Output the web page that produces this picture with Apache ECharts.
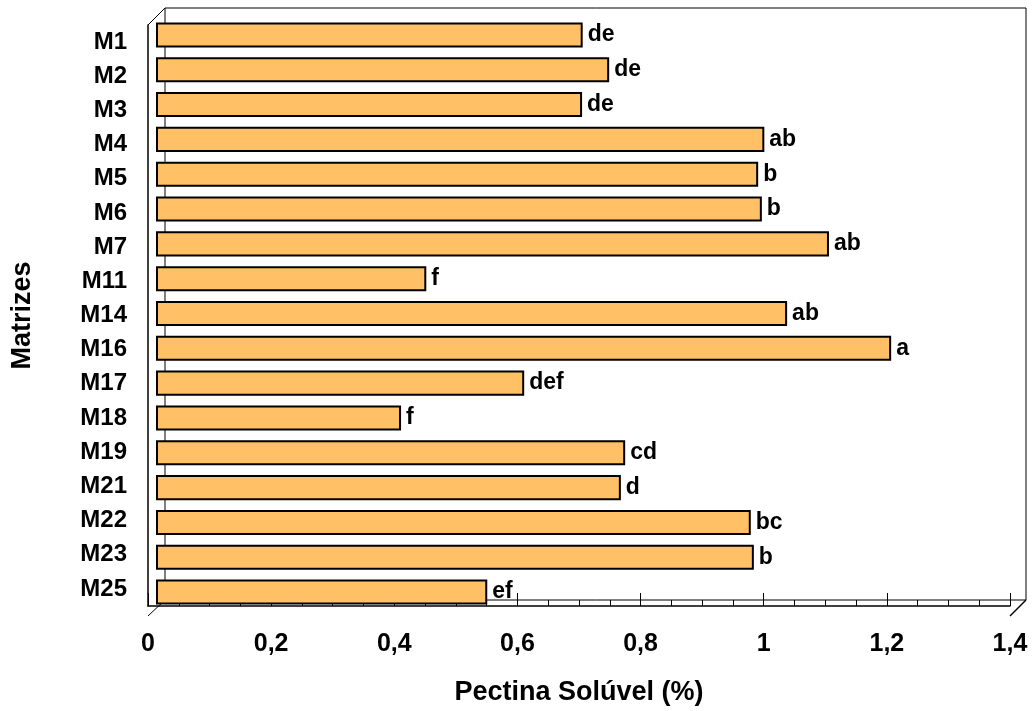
<!DOCTYPE html>
<html>
<head>
<meta charset="utf-8">
<script src="https://cdn.jsdelivr.net/npm/echarts@6/dist/echarts.min.js"></script>
<style>
html,body{margin:0;padding:0;background:#fff;}
#main{width:1033px;height:711px;}
</style>
</head>
<body>
<div id="main"></div>
<script>
// dados
var categorias = ['M1','M2','M3','M4','M5','M6','M7','M11','M14','M16','M17','M18','M19','M21','M22','M23','M25'];
var pectina = [0.693,0.736,0.692,0.988,0.978,0.984,1.093,0.439,1.025,1.194,0.598,0.398,0.762,0.755,0.966,0.971,0.538];
var letras = ['de','de','de','ab','b','b','ab','f','ab','a','def','f','cd','d','bc','b','ef'];

var fonte = "'Liberation Sans', Arial, sans-serif";

// planos do "3D": frente, meio (barras), fundo
var frente = {left:148, top:25, right:1010, bottom:616};
var fundo = {left:165, top:8, right:1026, bottom:600};
var meio = {left:156, top:17.5, right:1018, bottom:609.5};

var fmt = function(v){ return (+v.toFixed(1)).toString().replace('.', ','); };

var option = {
  animation:false,
  grid:[
    {left:fundo.left, top:fundo.top, width:fundo.right-fundo.left, height:fundo.bottom-fundo.top,
     show:true, borderColor:'#000', borderWidth:1, backgroundColor:'transparent'},
    {left:meio.left, top:meio.top, width:meio.right-meio.left, height:meio.bottom-meio.top},
    {left:frente.left, top:frente.top, width:frente.right-frente.left, height:frente.bottom-frente.top}
  ],
  xAxis:[
    {gridIndex:0, type:'value', min:0, max:1.4, show:false},
    {gridIndex:1, type:'value', min:0, max:1.4, show:false},
    {gridIndex:2, type:'value', min:0, max:1.4, interval:0.2,
     name:'Pectina Solúvel (%)', nameLocation:'middle', nameGap:73,
     nameTextStyle:{fontFamily:fonte, fontWeight:'bold', fontSize:27, color:'#000'},
     axisLine:{show:true, lineStyle:{color:'#000', width:1.5}},
     axisTick:{show:true, inside:true, length:13, lineStyle:{color:'#000', width:1}},
     minorTick:{show:true, splitNumber:4, length:6, lineStyle:{color:'#000', width:1}},
     splitLine:{show:false},
     axisLabel:{fontFamily:fonte, fontWeight:'bold', fontSize:25, color:'#000', margin:26, formatter:fmt}
    }
  ],
  yAxis:[
    {gridIndex:0, type:'category', data:categorias, inverse:true, show:false},
    {gridIndex:1, type:'category', data:categorias, inverse:true, show:false},
    {gridIndex:2, type:'category', data:categorias, inverse:true,
     name:'Matrizes', nameLocation:'middle', nameGap:112, nameRotate:90,
     nameTextStyle:{fontFamily:fonte, fontWeight:'bold', fontSize:27, color:'#000'},
     axisLine:{show:true, lineStyle:{color:'#000', width:1.5}},
     axisTick:{show:false},
     axisLabel:{fontFamily:fonte, fontWeight:'bold', fontSize:24, color:'#000', margin:21}
    }
  ],
  series:[
    {
      type:'bar', xAxisIndex:1, yAxisIndex:1,
      data:pectina, barCategoryGap:'28%',
      itemStyle:{color:'#FFC066', borderColor:'#000', borderWidth:2},
      label:{show:true, position:'right', distance:5,
        fontFamily:fonte, fontWeight:'bold', fontSize:23, color:'#000',
        formatter:function(p){ return letras[p.dataIndex]; }}
    }
  ],
  graphic:[
    // arestas diagonais do grafico 3D
    {type:'line', shape:{x1:frente.left, y1:frente.top, x2:fundo.left, y2:fundo.top}, style:{stroke:'#000', lineWidth:1}},
    {type:'line', shape:{x1:frente.left, y1:frente.bottom, x2:fundo.left, y2:fundo.bottom}, style:{stroke:'#000', lineWidth:1}},
    {type:'line', shape:{x1:frente.right, y1:frente.bottom, x2:fundo.right, y2:fundo.bottom}, style:{stroke:'#000', lineWidth:1.5}}
  ]
};

echarts.init(document.getElementById('main')).setOption(option);
</script>
</body>
</html>
